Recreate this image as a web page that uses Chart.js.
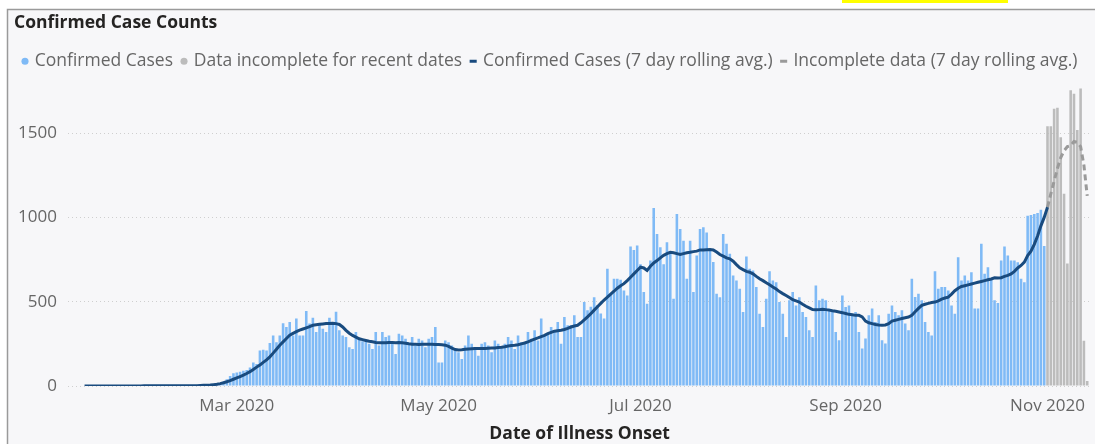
<!DOCTYPE html>
<html>
<head>
<meta charset="utf-8">
<script src="https://cdn.jsdelivr.net/npm/chart.js@4.4.1/dist/chart.umd.min.js"></script>
<style>
  html, body { margin: 0; padding: 0; background: #fff; }
</style>
</head>
<body>
<canvas id="cases" width="1095" height="444"></canvas>
<script>
// daily counts, starting on firstDay
const firstDay = '2020-01-15';

const confirmed = [
  0, 0, 0, 0, 1, 0, 0, 0, 1, 0, 0, 1, 0, 0, 0, 1, 0, 1, 0, 0, 1, 0, 1, 1, 0, 1, 2, 1, 1, 2, 1, 2, 3, 2, 3, 4,
  3, 4, 6, 8, 12, 18, 25, 40, 60, 75, 80,
  85, 90, 95, 110, 140, 130, 210, 215, 210, 255,
  300, 260, 300, 372, 350, 380, 300, 400, 300, 300,
  445, 370, 405, 320, 370, 340, 320, 405, 380, 440,
  330, 300, 290, 230, 220, 320, 280, 265, 265, 250,
  220, 320, 240, 320, 290, 300, 260, 190, 310, 300,
  280, 250, 290, 240, 280, 270, 230, 280, 290, 350,
  140, 140, 270, 260, 240, 210, 200, 160, 240,
  300, 250, 230, 180, 250, 260, 240, 200, 270, 250,
  230, 250, 290, 270, 220, 300, 260, 250, 320, 280,
  330, 270, 400, 300, 310, 350, 320, 380,
  250, 409, 360, 360, 420, 291, 291, 498, 450, 470,
  527, 480, 430, 400, 695, 546, 636, 636, 630, 567,
  537, 827, 807, 833, 722, 557, 488, 744, 1056, 902,
  823, 722, 853, 784, 518, 1020, 931, 862, 636, 862,
  557, 774, 931, 941, 911, 813, 735, 547, 527, 902,
  843, 784, 656, 626, 577, 439, 768, 695, 685, 587,
  429, 350, 518, 681, 626, 616, 498, 429, 291, 508,
  557, 478, 527, 439, 409, 331, 291, 596, 508,
  518, 508, 459, 439, 321, 272, 537, 469, 478, 429,
  439, 321, 222, 282, 419, 459, 380, 419, 272, 252,
  429, 478, 439, 419, 449, 370, 331, 636, 528, 547,
  508, 380, 321, 300, 681, 577, 587, 587, 567, 478,
  429, 764, 626, 656, 626, 675, 459, 459, 843, 666,
  705, 636, 508, 492, 744, 827, 774, 744, 744, 734,
  636, 616, 1010, 1014, 1020, 1026, 1045, 830
];

// recent dates, data still coming in
const incomplete = [1540, 1540, 1645, 1650, 1475, 1140, 726, 1754, 1733, 1518, 1764, 268, 30];

const avgConfirmed = [
  0, 0, 0, 0, 0, 0, 0, 0, 0, 0, 0, 0, 0, 0, 0, 0, 0, 0, 1, 1, 1, 1, 1, 1, 1, 1, 1, 1, 1, 1, 1, 2, 2, 2, 2, 3,
  4, 5, 6, 8, 10, 14, 19, 25, 32, 40, 48,
  56, 64, 74, 85, 98, 112, 125, 140, 155, 173,
  195, 218, 242, 262, 282, 301, 312, 322, 331, 338,
  345, 352, 360, 363, 366, 368, 370, 371, 372, 370,
  365, 350, 330, 313, 300, 290, 280, 275, 270, 265,
  262, 258, 256, 256, 257, 258, 258, 257, 258, 256,
  253, 250, 248, 247, 246, 247, 248, 248, 247, 246,
  246, 245, 242, 235, 225, 216, 213, 215, 218, 220,
  221, 222, 223, 222, 223, 224, 225, 226, 228, 230,
  233, 237, 240, 242, 245, 250, 255, 262, 270, 278,
  285, 293, 300, 310, 318, 325, 328, 331, 335, 342,
  350, 356, 360, 375, 392, 410, 429, 450, 470, 490,
  510, 527, 545, 562, 580, 595, 607, 625, 645, 665,
  685, 705, 700, 685, 710, 730, 744, 760, 775, 785,
  793, 790, 785, 780, 785, 790, 793, 797, 800, 807,
  806, 808, 810, 807, 795, 780, 770, 760, 754, 740,
  720, 701, 690, 680, 675, 665, 650, 636, 625, 612,
  600, 587, 575, 560, 548, 537, 525, 512, 505, 498,
  485, 473, 463, 453, 452, 453, 455, 453, 450, 446,
  443, 439, 435, 430, 425, 422, 419, 419, 410, 385,
  375, 370, 365, 362, 360, 362, 370, 385, 390, 395,
  400, 405, 409, 420, 440, 460, 478, 485, 490, 495,
  498, 505, 515, 522, 527, 545, 565, 580, 590, 595,
  600, 605, 610, 615, 620, 625, 630, 635, 642, 640,
  642, 650, 656, 665, 680, 700, 715, 735, 774, 800,
  840, 890, 950, 1000, 1060
];

// starts on the last day of avgConfirmed
const avgIncomplete = [1060, 1140, 1215, 1290, 1355, 1395, 1420, 1425, 1450, 1445, 1420, 1310, 1128];

const tickDates = ['2020-03-01', '2020-05-01', '2020-07-01', '2020-09-01', '2020-11-01'];
const tickLabels = ['Mar 2020', 'May 2020', 'Jul 2020', 'Sep 2020', 'Nov 2020'];
const yTicks = [0, 500, 1000, 1500];

function dayIndex(d) {
  return Math.round((Date.parse(d) - Date.parse(firstDay)) / 86400000);
}
function points(values, start) {
  return values.map((v, i) => ({ x: start + i, y: v }));
}

const incStart = confirmed.length;
const avgIncStart = avgConfirmed.length - 1;

const frame = {
  id: 'frame',
  beforeDraw(chart) {
    const c = chart.ctx;
    c.save();
    c.fillStyle = '#ffffff';
    c.fillRect(0, 0, chart.width, chart.height);
    c.fillStyle = '#f7f7f9';
    c.fillRect(7, 9, chart.width - 7, chart.height - 9);
    c.strokeStyle = '#9a9a9a';
    c.lineWidth = 1.5;
    c.beginPath();
    c.moveTo(7.5, chart.height);
    c.lineTo(7.5, 9.5);
    c.lineTo(chart.width, 9.5);
    c.stroke();
    c.fillStyle = '#ffff00';
    c.fillRect(842, 0, 166, 3);
    c.restore();
  }
};

const font = "'Open Sans', 'Noto Sans', sans-serif";

new Chart(document.getElementById('cases'), {
  type: 'bar',
  data: {
    datasets: [
      {
        label: 'Confirmed Cases',
        data: points(confirmed, 0),
        backgroundColor: '#7fbaf6',
        grouped: false,
        barPercentage: 0.78,
        categoryPercentage: 1,
        order: 1
      },
      {
        label: 'Data incomplete for recent dates',
        data: points(incomplete, incStart),
        backgroundColor: '#bcbcbc',
        grouped: false,
        barPercentage: 0.78,
        categoryPercentage: 1,
        order: 1
      },
      {
        type: 'line',
        label: 'Confirmed Cases (7 day rolling avg.)',
        data: points(avgConfirmed, 0),
        borderColor: '#194b7f',
        backgroundColor: '#194b7f',
        borderWidth: 3,
        pointRadius: 0,
        pointStyle: 'line',
        order: 0
      },
      {
        type: 'line',
        label: 'Incomplete data (7 day rolling avg.)',
        data: points(avgIncomplete, avgIncStart),
        borderColor: '#9a9a9a',
        backgroundColor: '#9a9a9a',
        borderWidth: 3,
        borderDash: [6, 4],
        pointRadius: 0,
        pointStyle: 'line',
        order: 0
      }
    ]
  },
  options: {
    responsive: false,
    animation: false,
    devicePixelRatio: 1,
    layout: { padding: { left: 14, right: 2, top: 5, bottom: 0 } },
    plugins: {
      tooltip: { enabled: false },
      title: {
        display: true,
        text: 'Confirmed Case Counts',
        align: 'start',
        color: '#252423',
        font: { family: font, size: 17.5, weight: 'bold' },
        padding: { top: 8, bottom: 8.5 }
      },
      legend: {
        position: 'top',
        align: 'start',
        labels: {
          usePointStyle: true,
          boxWidth: 2,
          boxHeight: 5,
          padding: 10,
          color: '#666666',
          font: { family: font, size: 17.5 },
          sort: (a, b) => a.datasetIndex - b.datasetIndex
        }
      }
    },
    scales: {
      x: {
        type: 'linear',
        offset: false,
        min: -5,
        max: 304.2,
        grid: { display: false, drawTicks: false, offset: false },
        border: { display: false },
        afterBuildTicks: s => { s.ticks = tickDates.map(d => ({ value: dayIndex(d) })); },
        afterFit: s => { s.height = 58; },
        ticks: {
          autoSkip: false,
          maxRotation: 0,
          padding: 10,
          color: '#666666',
          font: { family: font, size: 17 },
          callback: v => tickLabels[tickDates.findIndex(d => dayIndex(d) === v)]
        },
        title: {
          display: true,
          text: 'Date of Illness Onset',
          color: '#252423',
          font: { family: font, size: 17.5, weight: 'bold', lineHeight: 1.1 },
          padding: { top: 0, bottom: 0 }
        }
      },
      y: {
        min: 0,
        max: 1815,
        afterBuildTicks: s => { s.ticks = yTicks.map(v => ({ value: v })); },
        afterFit: s => { s.width = 54; },
        grid: { color: '#cfcfcf', drawTicks: false },
        border: { display: false, dash: [1, 3] },
        ticks: {
          padding: 11,
          color: '#666666',
          font: { family: font, size: 17 },
          callback: v => String(v)
        }
      }
    }
  },
  plugins: [frame]
});
</script>
</body>
</html>
